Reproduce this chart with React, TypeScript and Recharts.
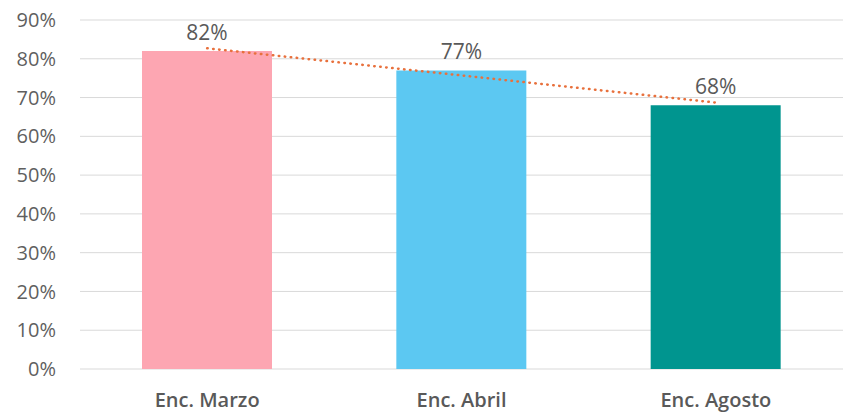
import React from "react";
import { ComposedChart, Bar, Line, XAxis, YAxis, CartesianGrid, Cell, LabelList } from "recharts";

const categories = ["Enc. Marzo", "Enc. Abril", "Enc. Agosto"];
const values = [82, 77, 68];
const trend = [82.7, 75.7, 68.7];
const barColors = ["#FDA6B2", "#5CC8F2", "#00958F"];
const yTicks = [0, 10, 20, 30, 40, 50, 60, 70, 80, 90];

const data = categories.map((c, i) => ({ name: c, value: values[i], trend: trend[i] }));

export default function App() {
  return (
    <div style={{ position: "absolute", left: 0, top: 0, background: "#fff" }}>
      <ComposedChart
        width={857}
        height={413}
        data={data}
        margin={{ top: 20, right: 14, left: 0, bottom: 0 }}
      >
        <CartesianGrid vertical={false} stroke="#D9D9D9" strokeWidth={1} />
        <XAxis
          dataKey="name"
          axisLine={false}
          tickLine={false}
          height={44}
          tickMargin={18}
          tick={{ fill: "#595959", fontSize: 20, fontWeight: 600, fontFamily: "Open Sans" }}
        />
        <YAxis
          width={80}
          domain={[0, 90]}
          ticks={yTicks}
          interval={0}
          axisLine={false}
          tickLine={false}
          tickMargin={18}
          tickFormatter={(v: number) => `${v}%`}
          tick={{ fill: "#5F5F5F", fontSize: 20, fontFamily: "Open Sans" }}
        />
        <Bar dataKey="value" barSize={130} isAnimationActive={false}>
          {data.map((d, i) => (
            <Cell key={d.name} fill={barColors[i]} />
          ))}
          <LabelList
            dataKey="value"
            position="top"
            offset={11}
            formatter={(v: number) => `${v}%`}
            style={{ fill: "#595959", fontSize: 21, fontFamily: "Open Sans" }}
          />
        </Bar>
        <Line
          dataKey="trend"
          type="linear"
          stroke="#E8703C"
          strokeWidth={2.5}
          strokeDasharray="0.5 5.5"
          strokeLinecap="round"
          dot={false}
          activeDot={false}
          isAnimationActive={false}
        />
      </ComposedChart>
    </div>
  );
}
